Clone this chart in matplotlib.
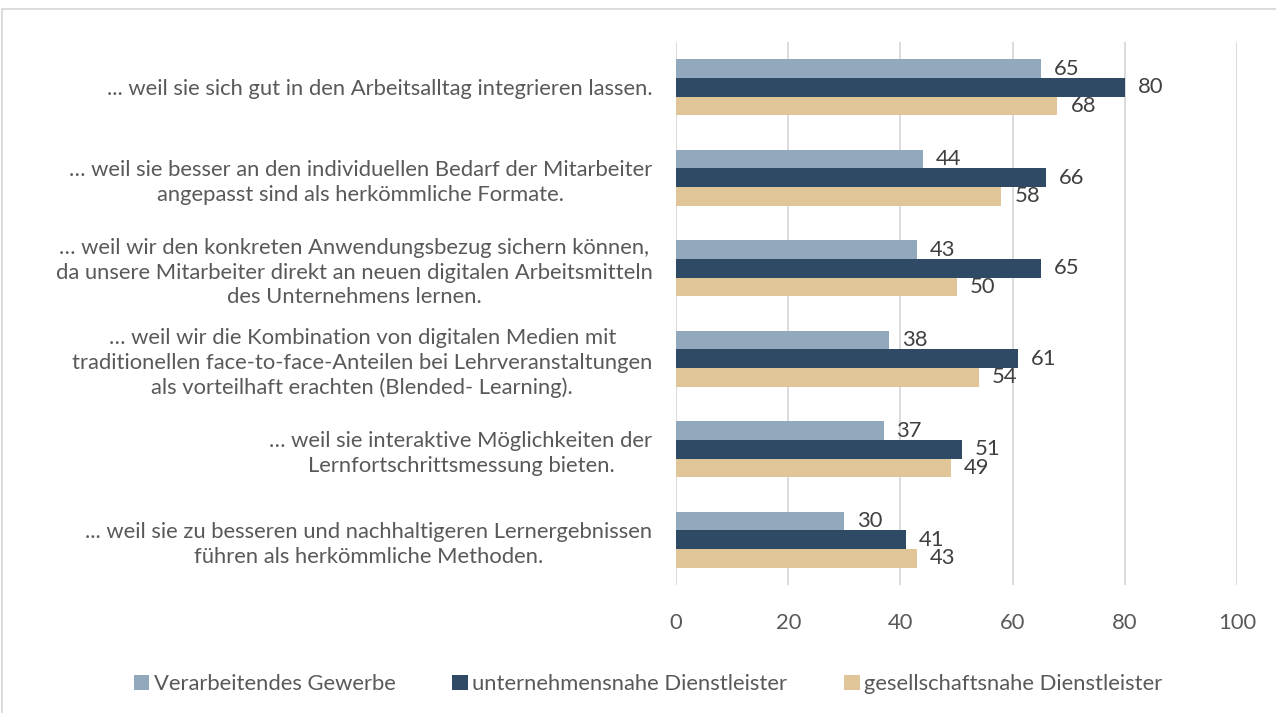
import matplotlib
matplotlib.use("Agg")
import matplotlib.pyplot as plt
import numpy as np
from matplotlib.patches import Rectangle

categories = [
    "... weil sie sich gut in den Arbeitsalltag integrieren lassen.",
    "… weil sie besser an den individuellen Bedarf der Mitarbeiter\nangepasst sind als herkömmliche Formate.",
    "… weil wir den konkreten Anwendungsbezug sichern können,\nda unsere Mitarbeiter direkt an neuen digitalen Arbeitsmitteln\ndes Unternehmens lernen.",
    "… weil wir die Kombination von digitalen Medien mit\ntraditionellen face-to-face-Anteilen bei Lehrveranstaltungen\nals vorteilhaft erachten (Blended- Learning).",
    "… weil sie interaktive Möglichkeiten der\nLernfortschrittsmessung bieten.",
    "... weil sie zu besseren und nachhaltigeren Lernergebnissen\nführen als herkömmliche Methoden.",
]
series_names = ["Verarbeitendes Gewerbe", "unternehmensnahe Dienstleister", "gesellschaftsnahe Dienstleister"]
verarbeitend = [65, 44, 43, 38, 37, 30]
unternehmen = [80, 66, 65, 61, 51, 41]
gesellschaft = [68, 58, 50, 54, 49, 43]
xticks = [0, 20, 40, 60, 80, 100]

colors = ["#92A8BC", "#2E4A65", "#E0C599"]
text_color = "#595959"
plt.rcParams['font.family'] = ['Lato', 'DejaVu Sans']
fs = 15.8

fig = plt.figure(figsize=(12.76, 7.13), dpi=100)
W, H = 1276, 713
ax = fig.add_axes([676 / W, 1 - 585 / H, (1237 - 676) / W, (585 - 42) / H])

n = len(categories)
y = np.arange(n)
bh = 0.205
series = [verarbeitend, unternehmen, gesellschaft]
for i, (vals, c, name) in enumerate(zip(series, colors, series_names)):
    pos = y + (i - 1) * bh
    ax.barh(pos, vals, height=bh, color=c, label=name, zorder=3)
    for p, v in zip(pos, vals):
        ax.text(v + 2.3, p, str(v), va='center', ha='left', fontsize=fs, color="#404040")

ax.set_ylim(n - 0.5, -0.5)
ax.set_xlim(0, 100)
ax.set_xticks(xticks)
ax.set_xticklabels([str(t) for t in xticks], fontsize=fs, color=text_color)
ax.set_yticks(y)
ax.set_yticklabels(categories, fontsize=fs, color=text_color, multialignment='center',
                   linespacing=1.3)
ax.tick_params(axis='both', length=0)
ax.tick_params(axis='y', pad=17)
ax.tick_params(axis='x', pad=20)
ax.grid(axis='x', color="#D9D9D9", linewidth=1.3, zorder=0)
for s in ax.spines.values():
    s.set_visible(False)

# border
fig.patches.append(Rectangle((2 / W, -0.1), 1.1, 1 - 8.5 / H + 0.1, transform=fig.transFigure,
                             fill=False, edgecolor="#D9D9D9", linewidth=1.3))

handles, labels = ax.get_legend_handles_labels()
leg = fig.legend(handles, labels, loc='center', bbox_to_anchor=(648 / W, 1 - 684 / H), ncol=3,
                 frameon=False, fontsize=fs, handlelength=0.7, handleheight=0.7,
                 handletextpad=0.2, columnspacing=2.6)
for t in leg.get_texts():
    t.set_color(text_color)

fig.savefig("out.png", dpi=100)
